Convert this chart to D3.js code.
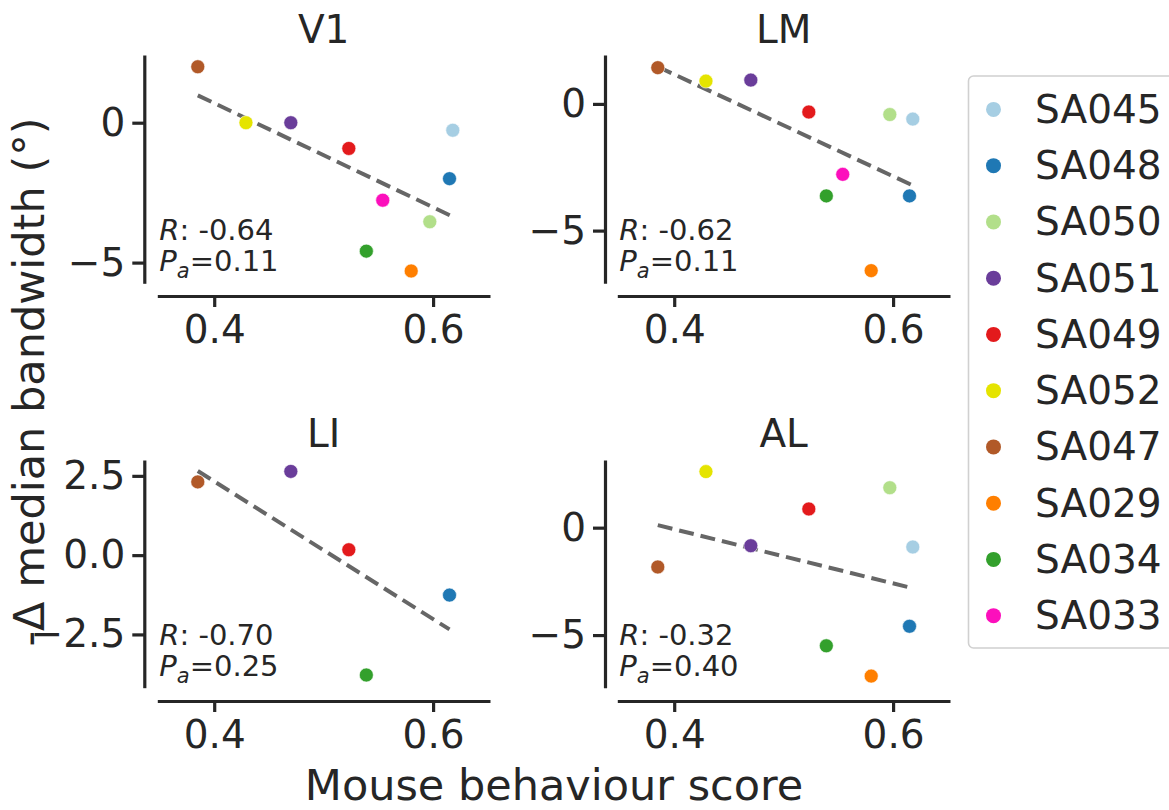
<!DOCTYPE html>
<html>
<head>
<meta charset="utf-8">
<script src="https://cdn.jsdelivr.net/npm/d3@7"></script>
<style>
  body { margin: 0; background: #fff; }
  svg { font-family: "DejaVu Sans", sans-serif; }
</style>
</head>
<body>
<svg id="chart" width="1169" height="810"></svg>
<script>
// ---- data ----
const mice = ["SA045","SA048","SA050","SA051","SA049","SA052","SA047","SA029","SA034","SA033"];
const mouseColors = ["#a6cee3","#1f78b4","#b2df8a","#6a3d9a","#e31a1c","#e5e400","#b15928","#ff7f00","#33a02c","#fc0fbc"];
const behaviourScore = [0.618,0.615,0.597,0.470,0.523,0.429,0.385,0.580,0.539,0.554];
const deltaV1 = [-0.27,-2.00,-3.54,0.00,-0.92,0.00,2.00,-5.30,-4.59,-2.77];
const deltaLM = [-0.60,-3.63,-0.42,0.94,-0.32,0.90,1.43,-6.58,-3.63,-2.78];
const deltaLI = [null,-1.26,null,2.64,0.17,null,2.31,null,-3.78,null];
const deltaAL = [-0.90,-4.59,1.86,-0.84,0.87,2.61,-1.83,-6.91,-5.50,null];
const areas = ["V1","LM","LI","AL"];
const rValues = ["-0.64","-0.62","-0.70","-0.32"];
const pValues = ["0.11","0.11","0.25","0.40"];
const yTickValues = [[0,-5],[0,-5],[2.5,0,-2.5],[0,-5]];
const yTickFormats = ["d","d",".1f","d"];
const yDomains = [[-5.74,2.42],[-7.08,1.93],[-4.18,3.0],[-7.45,3.15]];
const xTickValues = [0.4,0.6];
const xDomain = [0.348,0.652];

const series = [deltaV1, deltaLM, deltaLI, deltaAL];

// ---- layout ----
const svg = d3.select("#chart");
const ink = "#262626";
const cols = [{yAxisX:144.3, x0:157.3, x1:490}, {yAxisX:605, x0:617.3, x1:950}];
const rows = [{y0:55, y1:283.3, xAxisY:296, titleY:43, rY:240},
              {y0:460, y1:687.7, xAxisY:701, titleY:447, rY:645}];

areas.forEach((area, i) => {
  const c = cols[i % 2], r = rows[Math.floor(i / 2)];
  const x = d3.scaleLinear().domain(xDomain).range([c.x0, c.x1]);
  const y = d3.scaleLinear().domain(yDomains[i]).range([r.y1, r.y0]);
  const g = svg.append("g");

  const xa = g.append("g").attr("transform", `translate(0,${r.xAxisY})`)
    .call(d3.axisBottom(x).tickValues(xTickValues).tickFormat(d3.format(".1f"))
      .tickSize(11).tickSizeOuter(0).tickPadding(8));
  const ya = g.append("g").attr("transform", `translate(${c.yAxisX},0)`)
    .call(d3.axisLeft(y).tickValues(yTickValues[i]).tickFormat(d3.format(yTickFormats[i]))
      .tickSize(12).tickSizeOuter(0).tickPadding(7));
  [xa, ya].forEach(a => {
    a.select(".domain").attr("stroke", ink).attr("stroke-width", 3.2);
    a.selectAll(".tick line").attr("stroke", ink).attr("stroke-width", 3.2);
    a.selectAll(".tick text").attr("fill", ink).style("font-size", "39px")
      .style("font-family", "DejaVu Sans");
  });

  const pts = behaviourScore.map((s, k) => ({s, v: series[i][k], col: mouseColors[k]}))
    .filter(d => d.v !== null);

  // least-squares fit line
  const mx = d3.mean(pts, d => d.s), my = d3.mean(pts, d => d.v);
  const sxy = d3.sum(pts, d => (d.s - mx) * (d.v - my));
  const sxx = d3.sum(pts, d => (d.s - mx) ** 2);
  const slope = sxy / sxx, icpt = my - slope * mx;
  const [xmin, xmax] = d3.extent(pts, d => d.s);
  g.append("path")
    .datum([xmin, xmax])
    .attr("d", d3.line().x(d => x(d)).y(d => y(icpt + slope * d)))
    .attr("stroke", "#666666").attr("stroke-width", 4)
    .attr("stroke-dasharray", "15,7").attr("fill", "none");

  g.selectAll("circle.pt").data(pts).join("circle")
    .attr("class", "pt")
    .attr("cx", d => x(d.s)).attr("cy", d => y(d.v)).attr("r", 7)
    .attr("fill", d => d.col).attr("stroke", "#fff").attr("stroke-width", 0.6);

  g.append("text").attr("x", (c.x0 + c.x1) / 2).attr("y", r.titleY)
    .attr("text-anchor", "middle").attr("fill", ink).style("font-size", "39px").text(area);

  const tx = c.x0 + 2;
  const t1 = g.append("text").attr("x", tx).attr("y", r.rY).attr("fill", ink).style("font-size", "29px");
  t1.append("tspan").style("font-style", "italic").text("R");
  t1.append("tspan").text(": " + rValues[i]);
  const t2 = g.append("text").attr("x", tx).attr("y", r.rY + 31).attr("fill", ink).style("font-size", "29px");
  t2.append("tspan").style("font-style", "italic").text("P");
  t2.append("tspan").style("font-style", "italic").style("font-size", "21px").attr("dy", 7).text("a");
  t2.append("tspan").attr("dy", -7).text("=" + pValues[i]);
});

// axis labels
svg.append("text").attr("x", 554).attr("y", 800).attr("text-anchor", "middle")
  .attr("fill", ink).style("font-size", "43px").text("Mouse behaviour score");
svg.append("text").attr("transform", "translate(29,382) rotate(-90)")
  .attr("text-anchor", "middle").attr("dominant-baseline", "central")
  .attr("fill", ink).style("font-size", "43px").text("-Δ median bandwidth (°)");

// legend
const lg = svg.append("g");
lg.append("rect").attr("x", 968.5).attr("y", 76).attr("width", 230).attr("height", 572)
  .attr("rx", 5).attr("fill", "#fff").attr("stroke", "#d0d0d0").attr("stroke-width", 1.6);
const items = lg.selectAll("g.item").data(mice).join("g").attr("class", "item")
  .attr("transform", (d, k) => `translate(0,${109.4 + k * 56.25})`);
items.append("circle").attr("cx", 993.5).attr("cy", 0).attr("r", 7.5)
  .attr("fill", (d, k) => mouseColors[k]);
items.append("text").attr("x", 1035).attr("y", 0).attr("dominant-baseline", "central")
  .attr("fill", ink).style("font-size", "39px").text(d => d);
</script>
</body>
</html>
